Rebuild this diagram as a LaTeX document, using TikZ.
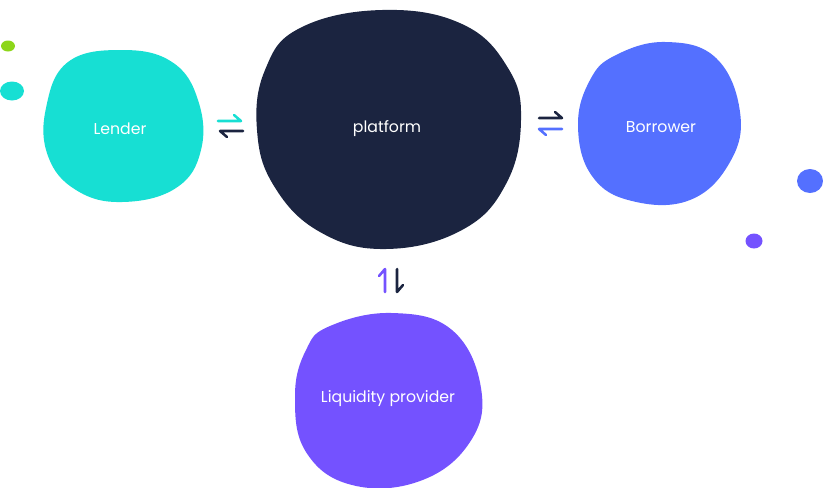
\documentclass[tikz,border=0pt]{standalone}
\usepackage{fontspec}
\setmainfont{Poppins}
\definecolor{lendcol}{HTML}{17DFD3}
\definecolor{platcol}{HTML}{1B2440}
\definecolor{borrcol}{HTML}{5470FF}
\definecolor{liqcol}{HTML}{7452FF}
\definecolor{dotgreen}{HTML}{8DD61A}
\begin{document}
\begin{tikzpicture}[
      x=0.75pt, y=-0.75pt,
      label/.style={text=white, font=\fontsize{11.8}{13}\selectfont},
      harp/.style={line width=1.9pt, line cap=round, line join=round}
    ]
    \useasboundingbox (0,0) rectangle (823,487);
    % blobs
    \fill[lendcol] plot[smooth cycle, tension=0.7] coordinates
      {(68,62) (122,50) (172,62) (198,100) (201,150) (176,188) (122,202) (76,190) (48,156) (46,108)};
    \fill[platcol] plot[smooth cycle, tension=0.7] coordinates
      {(300,28) (382,10) (462,24) (508,68) (521,120) (506,184) (462,230) (386,249) (320,232) (274,186) (257,130) (265,70)};
    \fill[borrcol] plot[smooth cycle, tension=0.7] coordinates
      {(616,55) (666,42) (716,58) (740,112) (730,162) (690,200) (632,201) (592,176) (578,126) (590,80)};
    \fill[liqcol] plot[smooth cycle, tension=0.7] coordinates
      {(330,326) (392,313) (452,330) (481,388) (470,442) (420,481) (352,485) (306,452) (295,396) (306,350)};
    % dots
    \fill[dotgreen] (8,46) ellipse (7 and 5.5);
    \fill[lendcol]  (12,91) ellipse (12 and 9.5);
    \fill[borrcol]  (810,181) ellipse (13 and 12);
    \fill[liqcol]   (754,241) ellipse (8.5 and 7.5);
    % labels
    \node[label] (lender)   at (120,129) {Lender};
    \node[label] (platform) at (387,129) {platform};
    \node[label] (borrower) at (661,127) {Borrower};
    \node[label] (liquid)   at (388,399) {Liquidity provider};
    % arrow ends
    \coordinate (lta) at (218,121); \coordinate (ltb) at (241,121);
    \coordinate (lba) at (243,131); \coordinate (lbb) at (220,131);
    \coordinate (rta) at (539,118); \coordinate (rtb) at (562,118);
    \coordinate (rba) at (562,129); \coordinate (rbb) at (539,129);
    \coordinate (vla) at (385,292); \coordinate (vlb) at (385,269);
    \coordinate (vra) at (397,269); \coordinate (vrb) at (397,292);
    \draw[harp, lendcol] (lta) -- (ltb) -- ++(-7,-6);
    \draw[harp, platcol] (lba) -- (lbb) -- ++(7,6);
    \draw[harp, platcol] (rta) -- (rtb) -- ++(-7,-6);
    \draw[harp, borrcol] (rba) -- (rbb) -- ++(7,6);
    \draw[harp, liqcol]  (vla) -- (vlb) -- ++(-6,7);
    \draw[harp, platcol] (vra) -- (vrb) -- ++(6,-7);
  \end{tikzpicture}
\end{document}
